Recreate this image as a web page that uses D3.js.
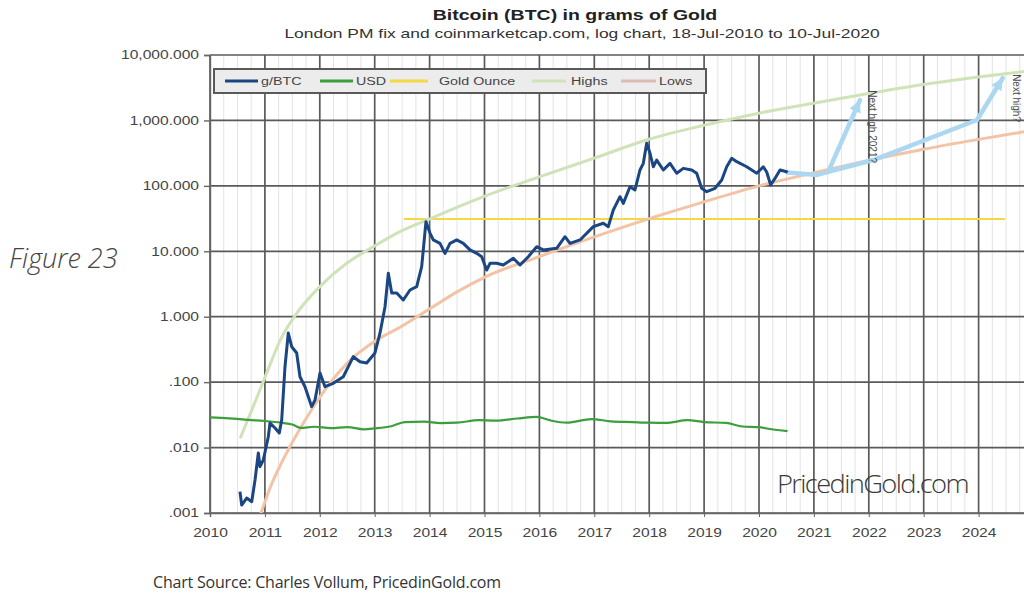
<!DOCTYPE html>
<html>
<head>
<meta charset="utf-8">
<script src="https://cdn.jsdelivr.net/npm/d3@7"></script>
<style>
  html, body { margin: 0; padding: 0; background: #ffffff; }
  svg { display: block; }
</style>
</head>
<body>
<svg id="chart" width="1024" height="596"></svg>
<script>
// ---- data: grams of gold per unit, by decimal year ----
const gramsPerBtc = [
  [2010.546, 0.00212], [2010.577, 0.00132], [2010.668, 0.00169], [2010.760, 0.00149],
  [2010.820, 0.00319], [2010.880, 0.00826], [2010.911, 0.0051], [2010.971, 0.00646],
  [2011.062, 0.01465], [2011.093, 0.0238], [2011.184, 0.0199], [2011.262, 0.0167],
  [2011.306, 0.0264], [2011.366, 0.172], [2011.426, 0.564], [2011.488, 0.348],
  [2011.579, 0.279], [2011.639, 0.121], [2011.730, 0.0851], [2011.852, 0.0422],
  [2011.913, 0.0533], [2012.004, 0.138], [2012.095, 0.0851], [2012.246, 0.0959],
  [2012.428, 0.121], [2012.610, 0.245], [2012.732, 0.205], [2012.854, 0.196],
  [2013.005, 0.279], [2013.097, 0.564], [2013.188, 1.42], [2013.248, 4.61],
  [2013.310, 2.30], [2013.401, 2.30], [2013.521, 1.80], [2013.643, 2.56],
  [2013.765, 2.88], [2013.856, 5.81], [2013.934, 28.3], [2014.007, 19.0],
  [2014.067, 14.9], [2014.189, 13.2], [2014.281, 9.31], [2014.372, 13.2],
  [2014.494, 14.9], [2014.614, 13.2], [2014.736, 10.5], [2014.858, 9.31],
  [2014.949, 8.26], [2015.040, 5.18], [2015.100, 6.55], [2015.222, 6.55],
  [2015.342, 6.17], [2015.525, 7.81], [2015.647, 6.17], [2015.798, 8.26],
  [2015.951, 11.75], [2016.071, 10.5], [2016.315, 11.1], [2016.466, 16.7],
  [2016.557, 13.2], [2016.740, 14.9], [2016.982, 23.8], [2017.164, 26.8],
  [2017.255, 23.8], [2017.346, 42.8], [2017.468, 68.3], [2017.528, 54.1],
  [2017.650, 97], [2017.741, 86.4], [2017.832, 175], [2017.893, 221],
  [2017.954, 447], [2018.015, 314], [2018.075, 196], [2018.137, 248],
  [2018.257, 175], [2018.379, 221], [2018.501, 156], [2018.621, 185],
  [2018.774, 175], [2018.865, 156], [2018.956, 91.8], [2019.047, 81.4],
  [2019.199, 91.8], [2019.321, 123], [2019.412, 196], [2019.503, 264],
  [2019.594, 234], [2019.776, 196], [2019.958, 156], [2020.078, 196],
  [2020.140, 163], [2020.213, 103], [2020.291, 130], [2020.383, 175],
  [2020.505, 164], [2020.520, 160]
];

const gramsPerUsd = [
  [2010.00, 0.0290], [2010.35, 0.0280], [2010.70, 0.0265], [2011.00, 0.0255],
  [2011.30, 0.0240], [2011.50, 0.0225], [2011.65, 0.0200], [2011.90, 0.0208],
  [2012.20, 0.0198], [2012.50, 0.0206], [2012.80, 0.0190], [2013.00, 0.0196],
  [2013.30, 0.0212], [2013.55, 0.0245], [2013.90, 0.0250], [2014.20, 0.0236],
  [2014.50, 0.0240], [2014.90, 0.0262], [2015.20, 0.0258], [2015.60, 0.0278],
  [2015.95, 0.0295], [2016.20, 0.0260], [2016.50, 0.0240], [2016.95, 0.0272],
  [2017.30, 0.0252], [2017.70, 0.0245], [2018.00, 0.0240], [2018.30, 0.0238],
  [2018.70, 0.0262], [2019.00, 0.0245], [2019.40, 0.0238], [2019.70, 0.0210],
  [2020.00, 0.0205], [2020.20, 0.0192], [2020.52, 0.0178]
];

const goldOunce = [[2013.53, 31.1035], [2024.48, 31.1035]];

const highs = [
  [2010.55, 0.0139], [2010.80, 0.045], [2011.03, 0.136], [2011.28, 0.44],
  [2011.58, 1.13], [2012.00, 2.88], [2012.49, 6.55], [2012.97, 11.7],
  [2013.40, 18.8], [2013.95, 30.0], [2014.97, 68], [2016.01, 138],
  [2017.01, 267], [2018.01, 520], [2019.02, 850], [2020.02, 1300],
  [2021.02, 1850], [2022.02, 2600], [2023.05, 3600], [2024.03, 4650],
  [2025.00, 5800]
];

const lows = [
  [2010.85, 0.00063], [2010.93, 0.0010], [2011.10, 0.0025], [2011.30, 0.0058],
  [2011.60, 0.017], [2011.90, 0.044], [2012.20, 0.10], [2012.50, 0.195],
  [2013.00, 0.42], [2013.50, 0.72], [2014.00, 1.32], [2014.50, 2.4],
  [2015.00, 4.0], [2016.00, 8.3], [2017.00, 16.6], [2018.00, 31.6],
  [2019.00, 57], [2020.00, 100], [2021.00, 158], [2022.00, 245],
  [2023.00, 363], [2024.00, 513], [2025.00, 708]
];

// projected path after the last close, and its two branches
const projectionBase = [[2020.52, 160], [2021.06, 147], [2021.26, 164]];
const projectionSoon = [[2021.26, 164], [2021.84, 2050]];
const projectionLater = [[2021.26, 164], [2022.08, 248], [2023.97, 1015], [2024.44, 4450]];
const projectionNotes = ["Next high 2021?", "Next high?"];

const xTickYears = [2010, 2011, 2012, 2013, 2014, 2015, 2016, 2017, 2018, 2019, 2020, 2021, 2022, 2023, 2024];
const yTickValues = [0.001, 0.01, 0.1, 1, 10, 100, 1000, 10000];
const yTickLabels = [".001", ".010", ".100", "1.000", "10.000", "100.000", "1,000.000", "10,000.000"];

const seriesNames = ["g/BTC", "USD", "Gold Ounce", "Highs", "Lows"];
const seriesColors = ["#1b4684", "#3c9e3c", "#f3d743", "#cfe3b9", "#f3c3a6"];

// ---- layout ----
const svg = d3.select("#chart");
const plot = { left: 210, right: 1024, top: 55, bottom: 513 };
const HSTRETCH = 1.3;
const FONT = "'Liberation Sans', Arial, sans-serif";

const x = d3.scaleLinear().domain([2010, 2025]).range([plot.left, 1033.5]);
const y = d3.scaleLog().domain([0.001, 10000]).range([plot.bottom, plot.top]);

function stretch(sel, k) {
  sel.each(function () {
    const t = d3.select(this);
    const x0 = +t.attr("x") || 0;
    t.attr("transform", `translate(${x0 * (1 - k)},0) scale(${k},1)`);
  });
}

svg.append("defs").append("clipPath").attr("id", "plotClip")
  .append("rect")
  .attr("x", plot.left).attr("y", plot.top)
  .attr("width", plot.right - plot.left).attr("height", plot.bottom - plot.top);

// ---- grid ----
const grid = svg.append("g");
const quarterLines = d3.range(2010, 2025, 0.25).filter(v => v % 1 !== 0);
grid.selectAll(".qline").data(quarterLines).join("line")
  .attr("x1", d => x(d)).attr("x2", d => x(d))
  .attr("y1", plot.top).attr("y2", plot.bottom)
  .attr("stroke", "#e3e3e6").attr("stroke-width", 1);
grid.selectAll(".vline").data(xTickYears.concat([2025])).join("line")
  .attr("x1", d => x(d)).attr("x2", d => x(d))
  .attr("y1", plot.top).attr("y2", plot.bottom)
  .attr("stroke", "#5a5a5a").attr("stroke-width", 1.7);
grid.selectAll(".hline").data(yTickValues).join("line")
  .attr("x1", plot.left).attr("x2", plot.right)
  .attr("y1", d => y(d)).attr("y2", d => y(d))
  .attr("stroke", "#5a5a5a").attr("stroke-width", 1.7);

// ---- axes ----
const yAxis = svg.append("g")
  .attr("transform", `translate(${plot.left},0)`)
  .call(d3.axisLeft(y).tickValues(yTickValues).tickFormat((d, i) => yTickLabels[i]).tickSize(6).tickPadding(5));
yAxis.select(".domain").attr("stroke", "#666").attr("stroke-width", 1.4);
yAxis.selectAll(".tick line").attr("stroke", "#666").attr("stroke-width", 1.4);
yAxis.selectAll(".tick text").attr("font-family", FONT).attr("font-size", 12).attr("fill", "#444");
stretch(yAxis.selectAll(".tick text"), HSTRETCH);

const xAxis = svg.append("g")
  .attr("transform", `translate(0,${plot.bottom})`)
  .call(d3.axisBottom(x).tickValues(xTickYears).tickFormat(d => String(d)).tickSize(4).tickPadding(11));
xAxis.select(".domain").attr("stroke", "#666").attr("stroke-width", 1.4);
xAxis.selectAll(".tick line").attr("stroke", "#666");
xAxis.selectAll(".tick text").attr("font-family", FONT).attr("font-size", 12).attr("fill", "#444");
stretch(xAxis.selectAll(".tick text"), HSTRETCH);

// ---- series ----
const series = svg.append("g").attr("clip-path", "url(#plotClip)");
const smooth = d3.line().x(d => x(d[0])).y(d => y(d[1])).curve(d3.curveMonotoneX);
const straight = d3.line().x(d => x(d[0])).y(d => y(d[1]));

series.append("path").datum(goldOunce).attr("d", straight)
  .attr("fill", "none").attr("stroke", seriesColors[2]).attr("stroke-width", 2);
series.append("path").datum(highs).attr("d", smooth)
  .attr("fill", "none").attr("stroke", seriesColors[3]).attr("stroke-width", 3);
series.append("path").datum(lows).attr("d", smooth)
  .attr("fill", "none").attr("stroke", seriesColors[4]).attr("stroke-width", 3);
series.append("path").datum(gramsPerUsd).attr("d", smooth)
  .attr("fill", "none").attr("stroke", seriesColors[1]).attr("stroke-width", 2.2);

// projection arrows
const projColor = "#acd7f1";
function arrowHead(g, from, to) {
  const p0 = [x(from[0]), y(from[1])], p1 = [x(to[0]), y(to[1])];
  const ang = Math.atan2(p1[1] - p0[1], p1[0] - p0[0]);
  const len = 12, half = 6;
  const bx = p1[0] - len * Math.cos(ang), by = p1[1] - len * Math.sin(ang);
  g.append("path")
    .attr("d", `M${p1[0]},${p1[1]}L${bx + half * Math.sin(ang)},${by - half * Math.cos(ang)}L${bx - half * Math.sin(ang)},${by + half * Math.cos(ang)}Z`)
    .attr("fill", projColor);
}
const proj = series.append("g");
[projectionBase, projectionSoon, projectionLater].forEach(p => {
  proj.append("path").datum(p).attr("d", straight)
    .attr("fill", "none").attr("stroke", projColor).attr("stroke-width", 4.5)
    .attr("stroke-linejoin", "round").attr("stroke-linecap", "round");
});
arrowHead(proj, projectionSoon[projectionSoon.length - 2], projectionSoon[projectionSoon.length - 1]);
arrowHead(proj, projectionLater[projectionLater.length - 2], projectionLater[projectionLater.length - 1]);

series.append("path").datum(gramsPerBtc).attr("d", straight)
  .attr("fill", "none").attr("stroke", seriesColors[0]).attr("stroke-width", 3)
  .attr("stroke-linejoin", "round");

// rotated notes beside the arrows, hung from their top end
const notes = [
  { at: [2022.0, 2900], text: projectionNotes[0] },
  { at: [2024.62, 5100], text: projectionNotes[1] }
];
notes.forEach(n => {
  const px = x(n.at[0]), py = y(n.at[1]);
  svg.append("text")
    .attr("transform", `translate(${px},${py}) rotate(90)`)
    .attr("text-anchor", "start")
    .attr("font-family", FONT).attr("font-size", 10).attr("fill", "#4a4a4a")
    .text(n.text);
});

// ---- legend ----
const legendLayout = { x: 214, y: 69, w: 492, h: 24,
  lineX: [225, 320, 390, 532, 621], lineW: [33, 33, 38, 34, 35], textX: [261, 356, 439, 571, 659] };
const legend = svg.append("g");
legend.append("rect")
  .attr("x", legendLayout.x).attr("y", legendLayout.y)
  .attr("width", legendLayout.w).attr("height", legendLayout.h)
  .attr("fill", "#ececec").attr("stroke", "#595959").attr("stroke-width", 2);
seriesNames.forEach((name, i) => {
  const cy = legendLayout.y + legendLayout.h / 2;
  legend.append("line")
    .attr("x1", legendLayout.lineX[i]).attr("x2", legendLayout.lineX[i] + legendLayout.lineW[i])
    .attr("y1", cy).attr("y2", cy)
    .attr("stroke", i === 4 ? "#dcbcb2" : seriesColors[i]).attr("stroke-width", 3);
  const t = legend.append("text")
    .attr("x", legendLayout.textX[i]).attr("y", cy + 4)
    .attr("font-family", FONT).attr("font-size", 11).attr("fill", "#444")
    .text(name);
  stretch(t, HSTRETCH);
});

// ---- titles ----
const title = svg.append("text")
  .attr("x", 575).attr("y", 20).attr("text-anchor", "middle")
  .attr("font-family", FONT).attr("font-size", 15).attr("font-weight", "bold").attr("fill", "#222")
  .text("Bitcoin (BTC) in grams of Gold");
stretch(title, HSTRETCH);
const subtitle = svg.append("text")
  .attr("x", 582).attr("y", 38).attr("text-anchor", "middle")
  .attr("font-family", FONT).attr("font-size", 13.4).attr("fill", "#333")
  .text("London PM fix and coinmarketcap.com, log chart, 18-Jul-2010 to 10-Jul-2020");
stretch(subtitle, HSTRETCH);

// watermark
svg.append("text")
  .attr("x", 777).attr("y", 493)
  .attr("font-family", "'Open Sans', sans-serif").attr("font-weight", 300)
  .attr("font-size", 25).attr("fill", "#3a3a3a").attr("letter-spacing", -1.5)
  .attr("textLength", 191).attr("lengthAdjust", "spacingAndGlyphs")
  .text("PricedinGold.com");

// page captions
svg.append("text")
  .attr("x", 9).attr("y", 268)
  .attr("font-family", "'Open Sans', sans-serif").attr("font-style", "italic").attr("font-weight", 300)
  .attr("font-size", 27).attr("fill", "#444")
  .text("Figure 23");
svg.append("text")
  .attr("x", 153).attr("y", 588)
  .attr("font-family", "'Open Sans', sans-serif")
  .attr("font-size", 16).attr("fill", "#333").attr("letter-spacing", -0.2)
  .text("Chart Source: Charles Vollum, PricedinGold.com");
</script>
</body>
</html>
